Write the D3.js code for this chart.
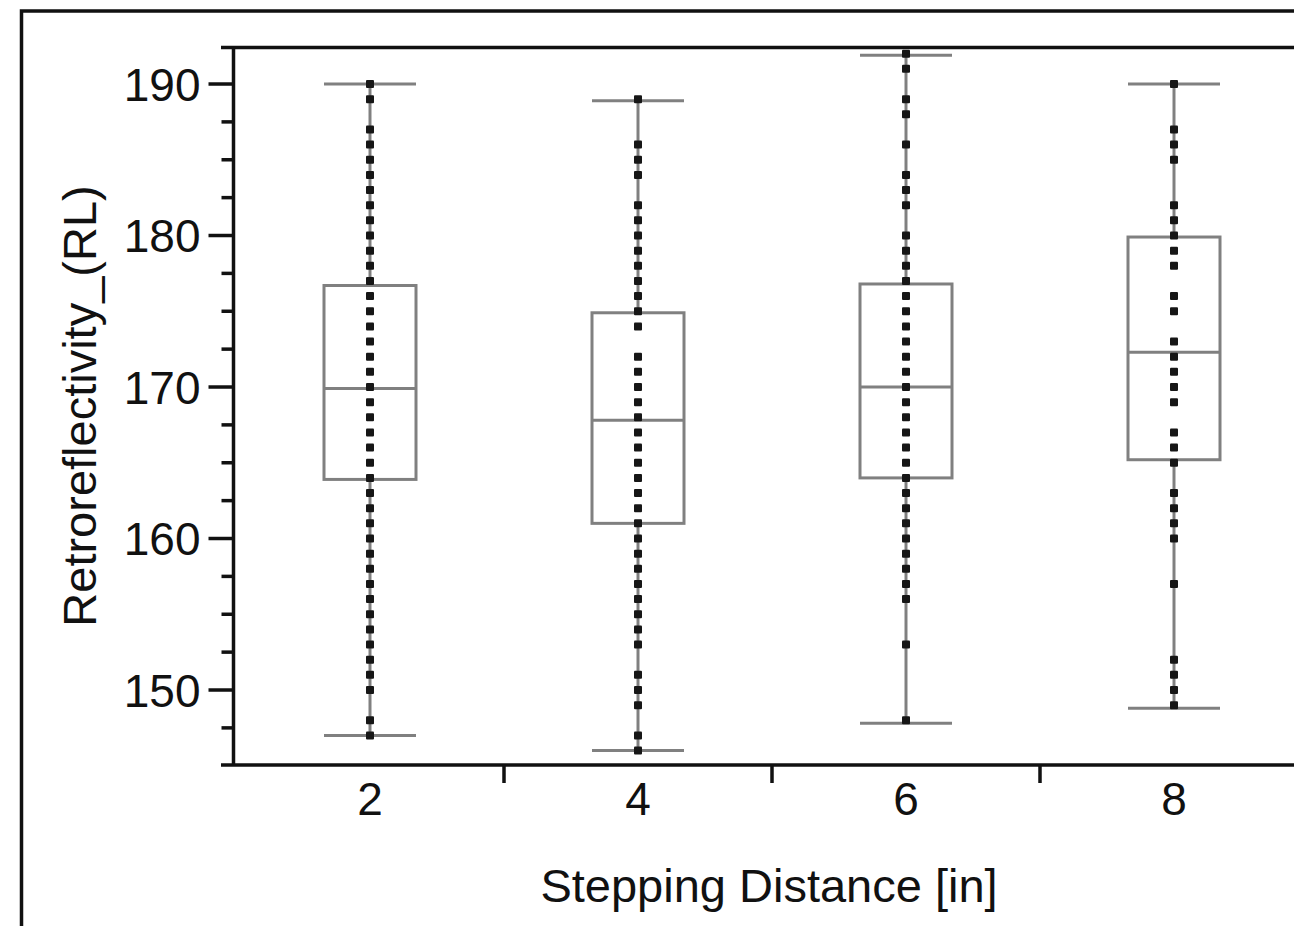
<!DOCTYPE html>
<html>
<head>
<meta charset="utf-8">
<script src="https://cdn.jsdelivr.net/npm/d3@7"></script>
<style>
    body { margin: 0; background: #ffffff; }
    svg { display: block; }
    text { font-family: "Liberation Sans", Arial, sans-serif; fill: #111; }
</style>
</head>
<body>
<div class="chart"></div>
<script>
"use strict";  // Code that enforces modern javascript
(function(){

    // ----------------------------------------
    //  Data
    // ----------------------------------------

    let categories = ["2", "4", "6", "8"];

    let points_2 = [190, 189, 187, 186, 185, 184, 183, 182, 181, 180, 179, 178, 177, 176, 175, 174,
                    173, 172, 171, 170, 169, 168, 167, 166, 165, 164, 163, 162, 161, 160, 159, 158,
                    157, 156, 155, 154, 153, 152, 151, 150, 148, 147];
    let points_4 = [189, 186, 185, 184, 182, 181, 180, 179, 178, 177, 176, 175, 174, 172, 171, 170,
                    169, 168, 167, 166, 165, 164, 163, 162, 161, 160, 159, 158, 157, 156, 155, 154,
                    153, 151, 150, 149, 147, 146];
    let points_6 = [192, 191, 189, 188, 186, 184, 183, 182, 180, 179, 178, 177, 176, 175, 174, 173,
                    172, 171, 170, 169, 168, 167, 166, 165, 164, 163, 162, 161, 160, 159, 158, 157,
                    156, 153, 148];
    let points_8 = [190, 187, 186, 185, 182, 181, 180, 179, 178, 176, 175, 173, 172, 171, 170, 169,
                    167, 166, 165, 163, 162, 161, 160, 157, 152, 151, 150, 149];

    // box summary per category (same order as categories)
    let whisker_low  = [147.0, 146.0, 147.8, 148.8];
    let quart_1      = [163.9, 161.0, 164.0, 165.2];
    let medians      = [169.9, 167.8, 170.0, 172.3];
    let quart_3      = [176.7, 174.9, 176.8, 179.9];
    let whisker_high = [190.0, 188.9, 191.9, 190.0];

    let y_major_ticks = [150, 160, 170, 180, 190];
    let y_minor_ticks = [147.5, 152.5, 155, 157.5, 162.5, 165, 167.5, 172.5, 175, 177.5,
                         182.5, 185, 187.5];

    let x_title = "Stepping Distance [in]";
    let y_title = "Retroreflectivity_(RL)";

    let all_points = [points_2, points_4, points_6, points_8];

    // Plot Appearance Settings
    let full_w = 1294, full_h = 926;
    let plot_left = 233.5, plot_top = 47.5, plot_bottom = 765;
    let band_left = 236, band_step = 268;
    let box_half = 46;
    let dot_size = 8;
    let box_color = "#808080";
    let box_stroke = 3;
    let axis_stroke = 3.5;

    // ----------------------------------------
    //  Scales
    // ----------------------------------------

    let x_scale = d3.scaleBand()
        .domain(categories)
        .range([band_left, band_left + band_step * categories.length])
        .paddingInner(0).paddingOuter(0);

    let y_scale = d3.scaleLinear()
        .domain([145.05, 192.41])
        .range([plot_bottom, plot_top]); // reversed because high is down in svg

    let cx = function(c) { return x_scale(c) + x_scale.bandwidth() / 2; };

    let svg = d3.select(".chart")
        .append("svg")
        .attr("width", full_w)
        .attr("height", full_h);

    // outer frame (right and bottom edges fall outside the picture)
    svg.append("rect")
        .attr("x", 21.5).attr("y", 11)
        .attr("width", 1500).attr("height", 1200)
        .attr("fill", "none")
        .attr("stroke", "#111")
        .attr("stroke-width", axis_stroke);

    // ----------------------------------------
    //  Boxes, whiskers and points
    // ----------------------------------------

    let groups = svg.selectAll(".grp")
        .data(categories)
        .enter()
        .append("g")
        .attr("class", "grp");

    // whiskers
    groups.append("line")
        .attr("x1", function(d) { return cx(d); })
        .attr("x2", function(d) { return cx(d); })
        .attr("y1", function(d, i) { return y_scale(quart_3[i]); })
        .attr("y2", function(d, i) { return y_scale(whisker_high[i]); })
        .attr("stroke", box_color).attr("stroke-width", box_stroke);

    groups.append("line")
        .attr("x1", function(d) { return cx(d); })
        .attr("x2", function(d) { return cx(d); })
        .attr("y1", function(d, i) { return y_scale(quart_1[i]); })
        .attr("y2", function(d, i) { return y_scale(whisker_low[i]); })
        .attr("stroke", box_color).attr("stroke-width", box_stroke);

    // caps
    [whisker_high, whisker_low].forEach(function(arr) {
        groups.append("line")
            .attr("x1", function(d) { return cx(d) - box_half; })
            .attr("x2", function(d) { return cx(d) + box_half; })
            .attr("y1", function(d, i) { return y_scale(arr[i]); })
            .attr("y2", function(d, i) { return y_scale(arr[i]); })
            .attr("stroke", box_color).attr("stroke-width", box_stroke);
    });

    // box
    groups.append("rect")
        .attr("x", function(d) { return cx(d) - box_half; })
        .attr("y", function(d, i) { return y_scale(quart_3[i]); })
        .attr("width", box_half * 2)
        .attr("height", function(d, i) { return y_scale(quart_1[i]) - y_scale(quart_3[i]); })
        .attr("fill", "none")
        .attr("stroke", box_color).attr("stroke-width", box_stroke);

    // median
    groups.append("line")
        .attr("x1", function(d) { return cx(d) - box_half; })
        .attr("x2", function(d) { return cx(d) + box_half; })
        .attr("y1", function(d, i) { return y_scale(medians[i]); })
        .attr("y2", function(d, i) { return y_scale(medians[i]); })
        .attr("stroke", box_color).attr("stroke-width", box_stroke);

    // points
    groups.each(function(c, i) {
        d3.select(this).selectAll(".dot")
            .data(all_points[i])
            .enter()
            .append("rect")
            .attr("class", "dot")
            .attr("x", cx(c) - dot_size / 2)
            .attr("y", function(v) { return y_scale(v) - dot_size / 2; })
            .attr("width", dot_size)
            .attr("height", dot_size)
            .attr("rx", 1)
            .attr("fill", "#161616");
    });

    // ----------------------------------------
    //  Axes
    // ----------------------------------------

    // top border line and x axis line, both run a bit left of the y axis
    svg.append("line")
        .attr("x1", 221).attr("x2", full_w + 10)
        .attr("y1", plot_top).attr("y2", plot_top)
        .attr("stroke", "#111").attr("stroke-width", axis_stroke);

    svg.append("line")
        .attr("x1", 221).attr("x2", full_w + 10)
        .attr("y1", plot_bottom).attr("y2", plot_bottom)
        .attr("stroke", "#111").attr("stroke-width", axis_stroke);

    svg.append("line")
        .attr("x1", plot_left).attr("x2", plot_left)
        .attr("y1", plot_top).attr("y2", plot_bottom)
        .attr("stroke", "#111").attr("stroke-width", axis_stroke);

    // y axis ticks
    let y_axis = svg.append("g")
        .attr("class", "y axis")
        .attr("transform", "translate(" + plot_left + ",0)");

    y_axis.selectAll(".major")
        .data(y_major_ticks)
        .enter()
        .append("line")
        .attr("x1", -25).attr("x2", 0)
        .attr("y1", function(d) { return y_scale(d); })
        .attr("y2", function(d) { return y_scale(d); })
        .attr("stroke", "#111").attr("stroke-width", axis_stroke);

    y_axis.selectAll(".minor")
        .data(y_minor_ticks)
        .enter()
        .append("line")
        .attr("x1", -12).attr("x2", 0)
        .attr("y1", function(d) { return y_scale(d); })
        .attr("y2", function(d) { return y_scale(d); })
        .attr("stroke", "#111").attr("stroke-width", axis_stroke);

    y_axis.selectAll(".lbl")
        .data(y_major_ticks)
        .enter()
        .append("text")
        .attr("x", -33)
        .attr("y", function(d) { return y_scale(d); })
        .attr("dy", "0.36em")
        .attr("text-anchor", "end")
        .style("font-size", "46px")
        .text(function(d) { return d; });

    // x axis: ticks sit between the categories
    let x_bounds = categories.slice(1).map(function(c) { return x_scale(c); });

    svg.selectAll(".xtick")
        .data(x_bounds)
        .enter()
        .append("line")
        .attr("x1", function(d) { return d; })
        .attr("x2", function(d) { return d; })
        .attr("y1", plot_bottom)
        .attr("y2", plot_bottom + 18)
        .attr("stroke", "#111").attr("stroke-width", axis_stroke);

    svg.selectAll(".xlbl")
        .data(categories)
        .enter()
        .append("text")
        .attr("x", function(d) { return cx(d); })
        .attr("y", 815)
        .attr("text-anchor", "middle")
        .style("font-size", "46px")
        .text(function(d) { return d; });

    //x axis text
    svg.append("text")
        .attr("x", 769)
        .attr("y", 902)
        .attr("text-anchor", "middle")
        .style("font-size", "47px")
        .text(x_title);

    //y axis text
    svg.append("text")
        .attr("transform", "translate(96,406) rotate(-90)")
        .attr("text-anchor", "middle")
        .style("font-size", "47px")
        .text(y_title);

})();
</script>
</body>
</html>
